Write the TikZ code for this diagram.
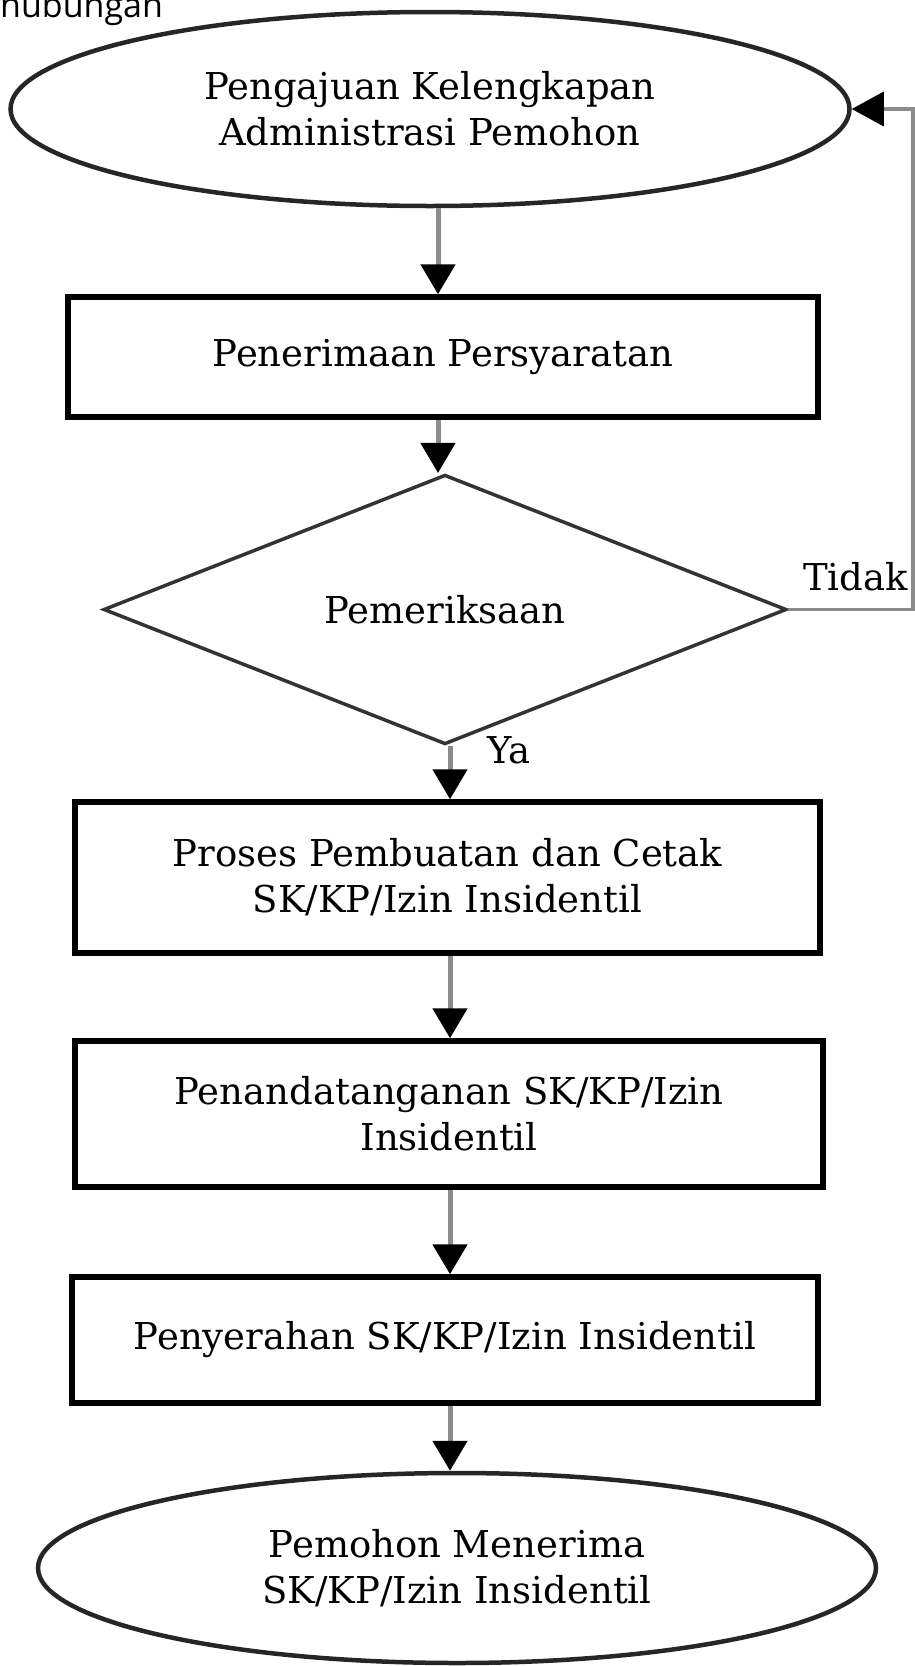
\documentclass[tikz,border=0pt]{standalone}
\usepackage{fontspec}
\setmainfont{DejaVu Serif}
\newfontfamily\hubfont{Open Sans}
\usetikzlibrary{shapes.geometric,arrows.meta}
\begin{document}
\begin{tikzpicture}[x=1pt,y=-1pt,
  txt/.style={font=\fontsize{37}{46}\selectfont},
  box/.style={txt, draw=black, line width=5.5pt, rectangle, inner sep=0pt, align=center},
  oval/.style={txt, draw=black!85, line width=4.5pt, ellipse, inner sep=0pt, align=center},
  decide/.style={txt, draw=black!80, line width=3.5pt, diamond, inner sep=0pt, align=center},
  flow/.style={draw=black!45, line width=5pt, -{Triangle[width=34pt,length=30pt,black]}},
  back/.style={draw=black!45, line width=3.5pt, -{Triangle[width=34pt,length=32pt,black]}},
]
\useasboundingbox (0,0) rectangle (915,1666);

\node[anchor=base west, inner sep=0pt, font=\hubfont\fontsize{34}{40}\selectfont] (hub) at (0,17) {hubungan};

\node[oval, minimum width=839pt, minimum height=194pt] (top) at (430,109) {Pengajuan Kelengkapan\\Administrasi Pemohon};
\node[box, minimum width=750pt, minimum height=120pt] (r1) at (443,357) {Penerimaan Persyaratan};
\node[decide, minimum width=683pt, minimum height=227pt] (dia) at (445,609.5) {Pemeriksaan};
\node[box, minimum width=745pt, minimum height=151pt] (r2) at (447.5,877.5) {Proses Pembuatan dan Cetak\\SK/KP/Izin Insidentil};
\node[box, minimum width=748pt, minimum height=146pt] (r3) at (449,1114) {Penandatanganan SK/KP/Izin\\Insidentil};
\node[box, minimum width=746pt, minimum height=126pt] (r4) at (445,1340) {Penyerahan SK/KP/Izin Insidentil};
\node[oval, minimum width=838pt, minimum height=190pt] (bot) at (457,1568) {Pemohon Menerima\\SK/KP/Izin Insidentil};

\coordinate (colA) at (438,0);
\coordinate (colB) at (450,0);
\coordinate (fbx) at (913,0);

\draw[flow] (top.south -| colA) -- (r1.north -| colA);
\draw[flow] (r1.south -| colA) -- (dia.north -| colA);
\draw[flow] (dia.south -| colB) -- (r2.north -| colB);
\draw[flow] (r2.south -| colB) -- (r3.north -| colB);
\draw[flow] (r3.south -| colB) -- (r4.north -| colB);
\draw[flow] (r4.south -| colB) -- (bot.north -| colB);

\draw[back] (dia.east) -- (dia.east -| fbx) |- (top.east);

\node[txt, anchor=base west, inner sep=0pt] (ya) at (487,763) {Ya};
\node[txt, anchor=base west, inner sep=0pt] (tidak) at (803,590) {Tidak};
\end{tikzpicture}
\end{document}
